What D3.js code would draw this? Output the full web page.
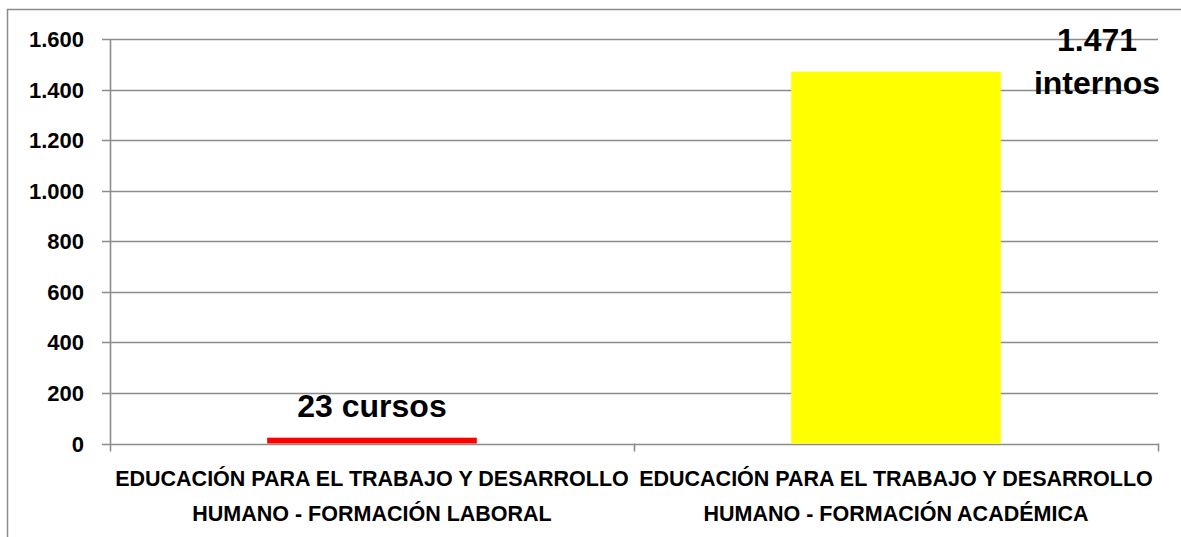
<!DOCTYPE html>
<html>
<head>
<meta charset="utf-8">
<script src="https://cdn.jsdelivr.net/npm/d3@7"></script>
<style>
  body { margin: 0; background: #fff; }
  text { font-family: "Liberation Sans", Arial, sans-serif; font-weight: bold; fill: #000; }
</style>
</head>
<body>
<div id="chart"></div>
<script>
var w = 1181;
var h = 537;

// data
var categories = [
    ["EDUCACIÓN PARA EL TRABAJO Y DESARROLLO", "HUMANO - FORMACIÓN LABORAL"],
    ["EDUCACIÓN PARA EL TRABAJO Y DESARROLLO", "HUMANO - FORMACIÓN ACADÉMICA"]
];
var values = [23, 1471];
var barLabels = [["23 cursos"], ["1.471", "internos"]];
var barColors = ["#ff0000", "#ffff00"];
var yTicks = [0, 200, 400, 600, 800, 1000, 1200, 1400, 1600];

var margin = { left: 110, right: 23, top: 39, bottom: 93 };

var svg = d3.select("#chart")
            .append("svg")
            .attr("width", w)
            .attr("height", h);

// outer frame
svg.append("rect")
    .attr("x", 7.5).attr("y", 9.5)
    .attr("width", w).attr("height", h)
    .attr("fill", "none")
    .attr("stroke", "#8c8c8c")
    .attr("stroke-width", 1.5);

var xScale = d3.scaleBand()
    .domain(d3.range(values.length))
    .range([margin.left, w - margin.right])
    .paddingInner(0)
    .paddingOuter(0);

var yScale = d3.scaleLinear()
    .domain([0, 1600])
    .range([h - margin.bottom - 0.5, margin.top]);

var gridColor = "#8c8c8c";

// gridlines + y tick marks
svg.selectAll(".grid")
    .data(yTicks)
    .enter()
    .append("line")
    .attr("x1", margin.left - 8)
    .attr("x2", w - margin.right)
    .attr("y1", function(d) { return Math.round(yScale(d)) + 0.5; })
    .attr("y2", function(d) { return Math.round(yScale(d)) + 0.5; })
    .attr("stroke", gridColor)
    .attr("stroke-width", 1.6);

// y axis line
svg.append("line")
    .attr("x1", margin.left + 0.5).attr("x2", margin.left + 0.5)
    .attr("y1", margin.top)
    .attr("y2", yScale(0) + 8)
    .attr("stroke", gridColor)
    .attr("stroke-width", 1.6);

// category tick marks
var catEdges = d3.range(values.length + 1).map(function(i) {
    return i < values.length ? xScale(i) : xScale(i - 1) + xScale.bandwidth();
});
svg.selectAll(".ctick")
    .data(catEdges.slice(1))
    .enter()
    .append("line")
    .attr("x1", function(d) { return Math.round(d) + 0.5; })
    .attr("x2", function(d) { return Math.round(d) + 0.5; })
    .attr("y1", yScale(0))
    .attr("y2", yScale(0) + 8)
    .attr("stroke", gridColor)
    .attr("stroke-width", 1.6);

// y labels
svg.selectAll(".ylab")
    .data(yTicks)
    .enter()
    .append("text")
    .attr("x", 84)
    .attr("y", function(d) { return yScale(d) + 8; })
    .attr("text-anchor", "end")
    .style("font-size", "22px")
    .text(function(d) { return d3.format(",")(d).replace(/,/g, "."); });

// bars
var barW = xScale.bandwidth() * 0.4;
svg.selectAll(".bar")
    .data(values)
    .enter()
    .append("rect")
    .attr("x", function(d, i) { return xScale(i) + (xScale.bandwidth() - barW) / 2; })
    .attr("y", function(d) { return yScale(d); })
    .attr("width", barW)
    .attr("height", function(d) { return yScale(0) - yScale(d); })
    .attr("fill", function(d, i) { return barColors[i]; });

// category labels
svg.selectAll(".xlab")
    .data(categories)
    .enter()
    .append("text")
    .attr("text-anchor", "middle")
    .style("font-size", "21.5px")
    .each(function(d, i) {
        var t = d3.select(this);
        d.forEach(function(line, j) {
            t.append("tspan")
                .attr("x", xScale(i) + xScale.bandwidth() / 2)
                .attr("y", 486 + j * 35)
                .text(line);
        });
    });

// data labels
var labelPos = [
    { x: xScale(0) + xScale.bandwidth() / 2, y: 417 },
    { x: 1097, y: 51 }
];
svg.selectAll(".dlab")
    .data(barLabels)
    .enter()
    .append("text")
    .attr("text-anchor", "middle")
    .style("font-size", "32px")
    .each(function(d, i) {
        var t = d3.select(this);
        d.forEach(function(line, j) {
            t.append("tspan")
                .attr("x", labelPos[i].x)
                .attr("y", labelPos[i].y + j * 43)
                .text(line);
        });
    });
</script>
</body>
</html>
